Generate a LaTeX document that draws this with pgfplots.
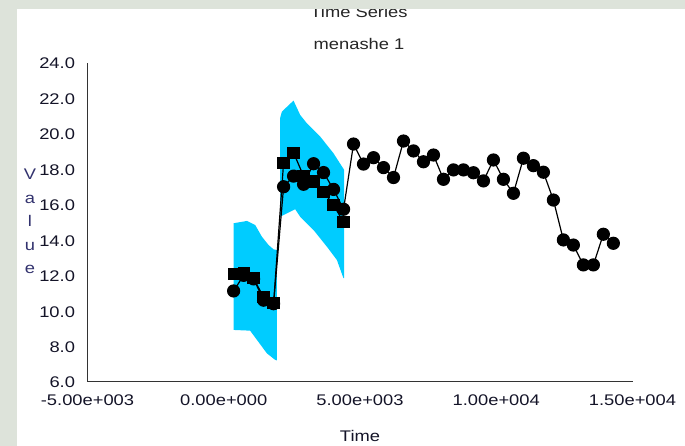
\documentclass[border=0pt]{standalone}
\usepackage{fontspec}
\setmainfont{Liberation Sans}[FakeStretch=1.19]
\usepackage{pgfplots}
\pgfplotsset{compat=1.18}
\definecolor{bandc}{RGB}{0,204,255}
\definecolor{frame}{RGB}{221,227,218}
\definecolor{txt}{RGB}{20,20,40}
\begin{document}
\begin{tikzpicture}[x=1bp,y=1bp]
\useasboundingbox (-87.5,-64.3) rectangle (597.5,381.7);
\begin{scope}[shift={(-87.5,-64.3)}]
\fill[frame] (0,0) rectangle (685,446);
\fill[white] (17,0) rectangle (685,437);
\end{scope}
\begin{axis}[
  at={(0,0)}, anchor=south west,
  scale only axis, width=545bp, height=319bp,
  xmin=-5000, xmax=15000, ymin=6, ymax=24,
  scaled x ticks=false, scaled y ticks=false,
  axis x line=bottom, axis y line=left,
  axis line style={-, line width=1.3bp, color=black!80},
  major tick length=0pt,
  xtick={-5000,0,5000,10000,15000},
  xticklabels={-5.00e+003,0.00e+000,5.00e+003,1.00e+004,1.50e+004},
  ytick={6,8,10,12,14,16,18,20,22,24},
  yticklabels={6.0,8.0,10.0,12.0,14.0,16.0,18.0,20.0,22.0,24.0},
  /pgf/number format/assume math mode=true,
  tick label style={font=\fontsize{15.4bp}{18bp}\selectfont, text=txt},
  xticklabel style={yshift=-10bp},
  yticklabel style={xshift=-9bp, yshift=-1bp},
  clip=false,
]
% forecast band, first segment
\addplot[fill=bandc, draw=none] coordinates {
 (359,14.94) (851,15.07) (1155,14.84) (1400,14.18) (1645,13.71) (1828,13.47) (1951,13.43)
 (1951,7.20) (1888,7.23) (1583,7.60) (1400,7.98) (968,8.88) (359,8.92)
} -- cycle;
% forecast band, second segment
\addplot[fill=bandc, draw=none] coordinates {
 (2072,15.31) (2072,20.9) (2134,21.24) (2560,21.86) (2805,21.05) (3051,20.58) (3539,19.83) (4026,18.89) (4419,17.95)
 (4419,11.84) (4393,11.84) (4151,12.87) (3784,13.62) (3293,14.56) (2805,15.31) (2622,15.73) (2318,15.50)
} -- cycle;
% observed series
\addplot[black, line width=1.2bp, mark=*, mark size=6bp, mark options={fill=black}] coordinates {
 (362,11.12) (729,12.00) (1095,11.80) (1462,10.60) (1829,10.40)
 (2196,17.00) (2562,17.60) (2929,17.14) (3296,18.30) (3662,17.80) (4029,16.85) (4396,15.73)
 (4762,19.41) (5129,18.28) (5496,18.64) (5863,18.08) (6229,17.52) (6596,19.58) (6963,19.02)
 (7329,18.41) (7696,18.79) (8063,17.42) (8430,17.95) (8796,17.95) (9163,17.79) (9530,17.33)
 (9896,18.51) (10263,17.42) (10630,16.63) (10997,18.61) (11363,18.19) (11730,17.82)
 (12097,16.25) (12463,14.00) (12830,13.71) (13197,12.59) (13564,12.59) (13930,14.32) (14297,13.81)
};
% forecast series
\addplot[black, line width=1.2bp, mark=square*, mark size=5.5bp, mark options={fill=black}] coordinates {
 (362,12.08) (729,12.15) (1095,11.84) (1462,10.76) (1829,10.42)
 (2196,18.36) (2562,18.92) (2929,17.60) (3296,17.30) (3662,16.72) (4029,15.97) (4396,15.00)
};
\end{axis}
\begin{scope}[shift={(-87.5,-64.3)}]
\node[font=\fontsize{15.4bp}{18bp}\selectfont, text=txt] at (360,10) {Time};
\node[font=\fontsize{15.4bp}{18bp}\selectfont, text=black!85] at (359,402) {menashe 1};
\node[font=\fontsize{15.4bp}{18bp}\selectfont, text=black!85] at (359,434) {Time Series};
\fill[frame] (0,437) rectangle (685,446);
\node[font=\fontsize{15.4bp}{18bp}\selectfont, text={rgb,255:red,50;green,50;blue,110}, align=center, inner sep=0pt] at (30,223)
 {\begin{tabular}{@{}c@{}}V\\[5.5bp]a\\[5.5bp]l\\[5.5bp]u\\[5.5bp]e\end{tabular}};
\end{scope}
\end{tikzpicture}
\end{document}
